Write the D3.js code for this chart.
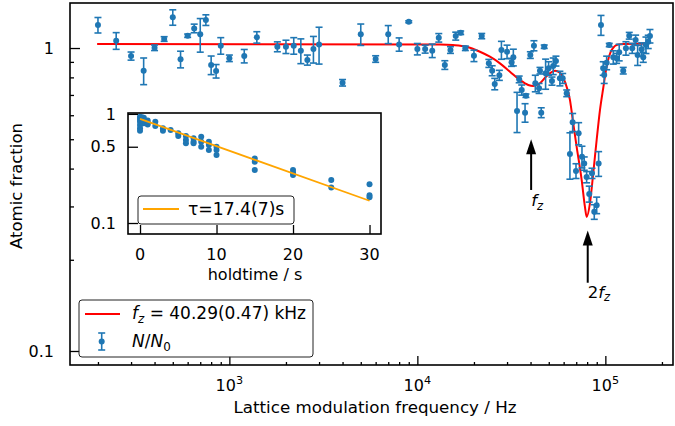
<!doctype html>
<html>
<head>
<meta charset="utf-8">
<script src="https://d3js.org/d3.v7.min.js"></script>
<style>
body { margin: 0; background: #fff; }
svg { font-family: "DejaVu Sans", sans-serif; }
</style>
</head>
<body>
<svg width="675" height="426"></svg>
<script>
// measured points: modulation frequency (Hz), atomic fraction N/N0, error
var freq = [200, 250, 300, 350, 400, 450, 500, 550, 600, 650, 700, 750, 800, 850, 900,
	1000, 1200, 1400, 1800, 2000, 2200, 2400, 2600, 2800, 3000, 4000, 5000, 6000, 7000, 8000,
	9000, 10000, 11000, 12000, 13000, 14000, 15000, 16000, 17000, 18000, 20000, 22000, 24000,
	25000, 25800, 27300, 28000, 30000, 31700, 32400, 33900, 34800, 35900, 37400, 37800, 39900,
	41700, 42400, 44400, 44900, 45600, 47300, 48100, 49900, 52000, 52800, 54600, 57300, 59300,
	62300, 64800, 67000, 69800, 72100, 75100, 77200, 79500, 82100, 84900, 87300, 89900, 92100,
	94800, 97400, 98600, 101600, 104900, 110200, 114800, 118500, 124500, 128700, 134000,
	139000, 144900, 148500, 156000, 159100, 164400, 169100, 172700];
var frac = [1.191, 1.057, 0.941, 0.842, 1.002, 1.071, 1.263, 0.918, 1.098, 1.161, 1.110, 1.237, 0.879, 0.839, 1.018,
	0.925, 0.941, 1.085, 1.010, 1.010, 1.018, 0.980, 0.913, 0.992, 1.028, 0.768, 1.110, 0.920, 1.110, 1.028,
	1.221, 0.992, 0.992, 0.980, 1.081, 0.879, 0.985, 1.095, 1.123, 0.998, 0.943, 1.095, 0.890,
	0.842, 0.761, 0.813, 0.985, 0.972, 0.897, 0.932, 0.620, 0.788, 0.727, 0.612, 0.696, 0.948,
	1.018, 0.765, 0.736, 0.842, 0.612, 1.010, 0.825, 0.857, 0.778, 0.872, 0.906, 0.794, 0.794,
	0.709, 0.447, 0.569, 0.393, 0.523, 0.438, 0.416, 0.375, 0.330, 0.386, 0.288, 0.303, 0.416,
	1.191, 0.857, 0.815, 0.894, 1.023, 0.932, 0.925, 0.968, 0.842, 0.998, 1.098,
	0.998, 1.063, 0.948, 0.990, 0.932, 1.023, 1.049, 1.095];
var fracErr = [0.070, 0.067, 0.029, 0.085, 0.021, 0.019, 0.074, 0.058, 0.014, 0.038, 0.141, 0.050, 0.062, 0.043, 0.064,
	0.023, 0.048, 0.047, 0.038, 0.051, 0.064, 0.092, 0.035, 0.100, 0.143, 0.019, 0.090, 0.023, 0.076, 0.052,
	0.009, 0.043, 0.030, 0.050, 0.035, 0.029, 0.025, 0.033, 0.015, 0.017, 0.041, 0.022, 0.027,
	0.032, 0.033, 0.031, 0.067, 0.050, 0.027, 0.059, 0.094, 0.020, 0.028, 0.043, 0.009, 0.024,
	0.039, 0.048, 0.028, 0.021, 0.023, 0.013, 0.094, 0.044, 0.024, 0.055, 0.034, 0.044, 0.030,
	0.018, 0.078, 0.039, 0.022, 0.044, 0.036, 0.021, 0.016, 0.020, 0.015, 0.016, 0.019, 0.039,
	0.090, 0.044, 0.051, 0.046, 0.013, 0.047, 0.035, 0.061, 0.021, 0.051, 0.028,
	0.038, 0.040, 0.072, 0.050, 0.035, 0.064, 0.053, 0.056];

// fit curve
var fitFreq = [198, 13190, 15460, 18290, 21530, 24330, 27500, 31090, 35130, 38900, 41350, 44870,
	48730, 53950, 57340, 60960, 64810, 67490, 70370, 74810, 77890, 79530, 82790, 86210, 89890,
	93610, 97450, 101600, 108000, 117100, 168500];
var fitFrac = [1.031, 1.027, 1.023, 1.010, 0.972, 0.936, 0.890, 0.835, 0.784, 0.755, 0.749, 0.765,
	0.808, 0.842, 0.829, 0.774, 0.674, 0.564, 0.472, 0.367, 0.299, 0.277, 0.307, 0.386, 0.497,
	0.624, 0.738, 0.868, 0.985, 1.028, 1.035];

// annotations
var arrowFreq = [40290, 80580];
var arrowTip = [0.5, 0.25];
var arrowTail = [0.34, 0.168];
var arrowText = [0.3, 0.15];
var arrowLabel = [["", "f", "z"], ["2", "f", "z"]];

// inset: lifetime measurement
var holdTime = [0, 0, 0, 0, 0, 0, 0, 0.25, 0.25, 0.5, 0.5, 0.5, 1, 1, 1, 2, 2, 3, 3, 4, 5, 5,
	6, 6, 6, 7, 7, 7, 8, 8, 8, 9, 9, 9, 10, 10, 10, 15, 15, 15, 20, 20, 20, 25, 25, 30, 30, 30];
var holdFrac = [0.943, 0.912, 0.879, 0.849, 0.791, 0.738, 0.701, 0.93, 0.88, 0.92, 0.86, 0.82, 0.87, 0.83, 0.80,
	0.849, 0.774, 0.738, 0.701, 0.712, 0.664, 0.627,
	0.627, 0.576, 0.537, 0.597, 0.556, 0.537, 0.618, 0.556, 0.5, 0.556, 0.518, 0.467,
	0.5, 0.467, 0.42, 0.391, 0.364, 0.306, 0.306, 0.289, 0.275, 0.248, 0.212, 0.226, 0.18, 0.172];
var fitTime = [0, 30];
var fitHold = [0.9, 0.16];

var blue = "#1f77b4";
var svg = d3.select("svg");

var x = d3.scaleLog().domain([142, 229000]).range([70, 673]);
var y = d3.scaleLog().domain([0.0899, 1.408]).range([365, 3]);

var data = freq.map(function(f, i) { return {f: f, v: frac[i], e: fracErr[i]}; });
var fit = fitFreq.map(function(f, i) { return {f: f, v: fitFrac[i]}; });

// fit line
svg.append("path").datum(fit)
	.attr("fill", "none").attr("stroke", "red").attr("stroke-width", 2)
	.attr("d", d3.line().x(function(d) { return x(d.f); }).y(function(d) { return y(d.v); })
		.curve(d3.curveMonotoneX));

// error bars
var g = svg.append("g").attr("stroke", blue).attr("stroke-width", 1.6);
var eb = g.selectAll("g").data(data).enter().append("g");
eb.append("line")
	.attr("x1", function(d) { return x(d.f); }).attr("x2", function(d) { return x(d.f); })
	.attr("y1", function(d) { return y(d.v - d.e); }).attr("y2", function(d) { return y(d.v + d.e); });
[-1, 1].forEach(function(s) {
	eb.append("line")
		.attr("x1", function(d) { return x(d.f) - 3.5; }).attr("x2", function(d) { return x(d.f) + 3.5; })
		.attr("y1", function(d) { return y(d.v + s * d.e); }).attr("y2", function(d) { return y(d.v + s * d.e); });
});
eb.append("circle").attr("cx", function(d) { return x(d.f); }).attr("cy", function(d) { return y(d.v); })
	.attr("r", 3).attr("fill", blue).attr("stroke", "none");

// arrows
arrowFreq.forEach(function(f, i) {
	var ax = x(f), ty = y(arrowTip[i]), by = y(arrowTail[i]);
	svg.append("line").attr("x1", ax).attr("x2", ax).attr("y1", by).attr("y2", ty + 12)
		.attr("stroke", "black").attr("stroke-width", 2);
	svg.append("path").attr("d", "M" + ax + "," + ty + "L" + (ax - 5) + "," + (ty + 15) + "L" + (ax + 5) + "," + (ty + 15) + "Z")
		.attr("fill", "black");
	var t = svg.append("text").attr("x", ax).attr("y", y(arrowText[i])).attr("font-size", 16.5);
	if (arrowLabel[i][0]) t.append("tspan").text(arrowLabel[i][0]);
	t.append("tspan").attr("font-style", "italic").text(arrowLabel[i][1]);
	t.append("tspan").attr("font-style", "italic").attr("font-size", "70%").attr("dy", "0.3em").text(arrowLabel[i][2]);
});

// axes ticks (inward)
var xMinor = [];
[100, 1000, 10000, 100000].forEach(function(p) {
	for (var k = 2; k <= 9; k++) if (p * k > 142 && p * k < 229000) xMinor.push(p * k);
});
var yMinor = [0.2, 0.3, 0.4, 0.5, 0.6, 0.7, 0.8, 0.9];

svg.append("g").attr("transform", "translate(0,365)")
	.call(d3.axisBottom(x).tickValues(xMinor).tickSize(-3).tickSizeOuter(0).tickFormat(""));
svg.append("g").attr("transform", "translate(0,365)")
	.call(d3.axisBottom(x).tickValues([1e3, 1e4, 1e5]).tickSize(-9).tickSizeOuter(0).tickFormat(""));
svg.append("g").attr("transform", "translate(70,0)")
	.call(d3.axisLeft(y).tickValues(yMinor).tickSize(-4).tickSizeOuter(0).tickFormat(""));
svg.append("g").attr("transform", "translate(70,0)")
	.call(d3.axisLeft(y).tickValues([0.1, 1]).tickSize(-10).tickSizeOuter(0).tickFormat(""));
svg.selectAll(".tick line").attr("stroke", "black").attr("stroke-width", 1.3);
svg.selectAll(".domain").remove();

[1e3, 1e4, 1e5].forEach(function(v) {
	var t = svg.append("text").attr("x", x(v)).attr("y", 391).attr("text-anchor", "middle").attr("font-size", 16);
	t.append("tspan").text("10");
	t.append("tspan").attr("font-size", "70%").attr("dy", "-0.6em").text(Math.round(Math.log10(v)));
});
[0.1, 1].forEach(function(v) {
	svg.append("text").attr("x", 54).attr("y", y(v)).attr("dy", "0.36em")
		.attr("text-anchor", "end").attr("font-size", 16).text(v === 1 ? "1" : "0.1");
});
svg.append("text").attr("x", 375).attr("y", 413).attr("text-anchor", "middle").attr("font-size", 16.7)
	.text("Lattice modulation frequency / Hz");
svg.append("text").attr("transform", "translate(22,186) rotate(-90)").attr("text-anchor", "middle")
	.attr("font-size", 16.5).text("Atomic fraction");

svg.append("rect").attr("x", 70).attr("y", 3).attr("width", 603).attr("height", 362)
	.attr("fill", "none").attr("stroke", "black").attr("stroke-width", 1.6);

// ---- inset ----
var ix = d3.scaleLinear().domain([-1.57, 31.5]).range([128, 381]);
var iy = d3.scaleLog().domain([0.0793, 1.019]).range([234, 113]);
var inset = svg.append("g");
inset.append("rect").attr("x", 128).attr("y", 113).attr("width", 253).attr("height", 121).attr("fill", "white");
inset.selectAll("circle").data(holdTime).enter().append("circle")
	.attr("cx", function(d) { return ix(d); }).attr("cy", function(d, i) { return iy(holdFrac[i]); })
	.attr("r", 3).attr("fill", blue);
inset.append("path").datum(fitTime)
	.attr("fill", "none").attr("stroke", "orange").attr("stroke-width", 1.8)
	.attr("d", d3.line().x(function(d) { return ix(d); }).y(function(d, i) { return iy(fitHold[i]); }));
inset.append("g").attr("transform", "translate(0,234)")
	.call(d3.axisBottom(ix).tickValues([0, 10, 20, 30]).tickSize(-9).tickSizeOuter(0).tickFormat(""));
inset.append("g").attr("transform", "translate(128,0)")
	.call(d3.axisLeft(iy).tickValues([0.1, 0.5, 1]).tickSize(-10).tickSizeOuter(0).tickFormat(""));
inset.selectAll(".tick line").attr("stroke", "black").attr("stroke-width", 1.3);
inset.selectAll(".domain").remove();
[0, 10, 20, 30].forEach(function(v) {
	inset.append("text").attr("x", ix(v)).attr("y", 260).attr("text-anchor", "middle").attr("font-size", 16).text(v);
});
[[1, "1"], [0.5, "0.5"], [0.1, "0.1"]].forEach(function(p) {
	inset.append("text").attr("x", 116).attr("y", iy(p[0])).attr("dy", "0.36em")
		.attr("text-anchor", "end").attr("font-size", 16).text(p[1]);
});
inset.append("text").attr("x", 255).attr("y", 280).attr("text-anchor", "middle").attr("font-size", 16)
	.text("holdtime / s");
// inset legend
inset.append("rect").attr("x", 138).attr("y", 196).attr("width", 156).attr("height", 28).attr("rx", 3)
	.attr("fill", "white").attr("fill-opacity", 0.85).attr("stroke", "#222").attr("stroke-width", 1);
inset.append("line").attr("x1", 143).attr("x2", 179).attr("y1", 209).attr("y2", 209)
	.attr("stroke", "orange").attr("stroke-width", 1.8);
inset.append("text").attr("x", 188).attr("y", 215).attr("font-size", 17.2).text("\u03c4=17.4(7)s");
inset.append("rect").attr("x", 128).attr("y", 113).attr("width", 253).attr("height", 121)
	.attr("fill", "none").attr("stroke", "black").attr("stroke-width", 1.6);

// ---- main legend ----
var lg = svg.append("g");
lg.append("rect").attr("x", 79).attr("y", 300).attr("width", 234).attr("height", 57).attr("rx", 3)
	.attr("fill", "white").attr("fill-opacity", 0.85).attr("stroke", "#222").attr("stroke-width", 1);
lg.append("line").attr("x1", 85).attr("x2", 120).attr("y1", 314).attr("y2", 314)
	.attr("stroke", "red").attr("stroke-width", 2);
var t1 = lg.append("text").attr("x", 132).attr("y", 319).attr("font-size", 17);
t1.append("tspan").attr("font-style", "italic").text("f");
t1.append("tspan").attr("font-style", "italic").attr("font-size", "70%").attr("dy", "0.3em").text("z");
t1.append("tspan").attr("dy", "-0.21em").text(" = 40.29(0.47) kHz");
lg.append("line").attr("x1", 101.7).attr("x2", 101.7).attr("y1", 333).attr("y2", 350)
	.attr("stroke", blue).attr("stroke-width", 1.6);
[333, 350].forEach(function(cy) {
	lg.append("line").attr("x1", 98.2).attr("x2", 105.2).attr("y1", cy).attr("y2", cy)
		.attr("stroke", blue).attr("stroke-width", 1.6);
});
lg.append("circle").attr("cx", 101.7).attr("cy", 341.5).attr("r", 3).attr("fill", blue);
var t2 = lg.append("text").attr("x", 132).attr("y", 347).attr("font-size", 17);
t2.append("tspan").attr("font-style", "italic").text("N");
t2.append("tspan").text("/");
t2.append("tspan").attr("font-style", "italic").text("N");
t2.append("tspan").attr("font-size", "70%").attr("dy", "0.3em").text("0");
</script>
</body>
</html>
